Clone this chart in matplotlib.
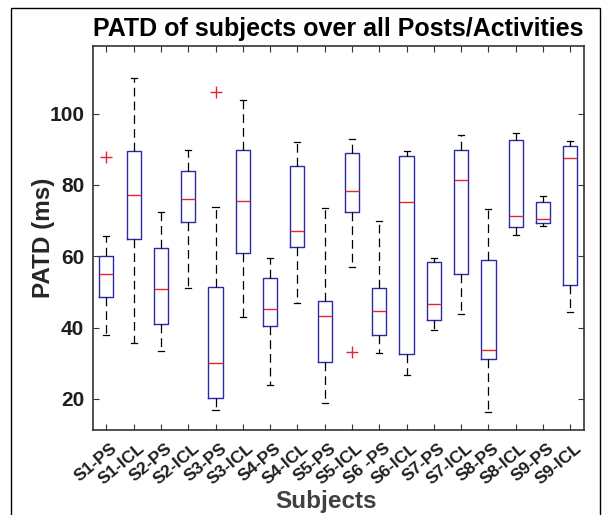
import matplotlib
matplotlib.use("Agg")
import matplotlib.pyplot as plt
import matplotlib.transforms as mtransforms
from matplotlib.patches import Rectangle

plt.rcParams["font.family"] = ["Liberation Sans", "DejaVu Sans"]

labels = ["S1-PS", "S1-ICL", "S2-PS", "S2-ICL", "S3-PS", "S3-ICL", "S4-PS", "S4-ICL",
          "S5-PS", "S5-ICL", "S6 -PS", "S6-ICL", "S7-PS", "S7-ICL", "S8-PS", "S8-ICL",
          "S9-PS", "S9-ICL"]

whislo = [37.9, 35.8, 33.5, 51.2, 16.9, 42.9, 24.0, 46.9, 19.0, 57.0, 32.8, 26.7,
          39.2, 43.9, 16.3, 65.9, 68.6, 44.5]
q1 = [48.7, 64.8, 41.1, 69.6, 20.3, 60.8, 40.5, 62.7, 30.3, 72.5, 37.9, 32.7,
      42.2, 55.0, 31.1, 68.2, 69.3, 52.0]
med = [55.1, 77.3, 50.8, 76.0, 30.1, 75.6, 45.3, 67.1, 43.3, 78.3, 44.6, 75.3,
       46.6, 81.4, 33.8, 71.2, 70.5, 87.5]
q3 = [60.0, 89.4, 62.4, 84.0, 51.3, 89.8, 53.9, 85.4, 47.6, 88.8, 51.2, 88.1,
      58.4, 89.8, 59.0, 92.5, 75.3, 90.8]
whishi = [65.8, 110.0, 72.5, 89.8, 73.9, 103.7, 59.4, 92.1, 73.5, 92.8, 69.9, 89.5,
          59.4, 94.1, 73.3, 94.5, 77.0, 92.2]
outliers = [[87.7], [], [], [], [105.9], [], [], [], [], [33.1], [], [],
            [], [], [], [], [], []]

stats = []
for i in range(len(labels)):
    stats.append(dict(label=labels[i], whislo=whislo[i], q1=q1[i], med=med[i],
                      q3=q3[i], whishi=whishi[i], fliers=outliers[i]))

fig = plt.figure(figsize=(6.05, 5.15), dpi=100)
ax = fig.add_axes([0.1532, 0.165, 0.812, 0.7462])

box_col = "#2a2aa6"
ax.bxp(stats, widths=0.52, capwidths=0.22, showfliers=True,
       boxprops=dict(color=box_col, linewidth=1.0),
       medianprops=dict(color="#e0262e", linewidth=1.0),
       whiskerprops=dict(color="black", linewidth=0.9, linestyle=(0, (7, 4))),
       capprops=dict(color="black", linewidth=0.9),
       flierprops=dict(marker="+", markeredgecolor="#e0262e", markersize=8,
                       markeredgewidth=1.0, linestyle="none"))

ax.set_xlim(0.5, len(labels) + 0.5)
ax.set_ylim(11.3, 119.0)
ax.set_yticks([20, 40, 60, 80, 100])

ax.tick_params(direction="in", top=True, right=True, length=4, width=0.8,
               color="#333333", labelsize=15, pad=6)
for lab in ax.get_yticklabels():
    lab.set_fontweight("bold")
    lab.set_color("#1e1e1e")

ax.set_xticks(range(1, len(labels) + 1))
# shift rotated tick labels a little right and down, as in the original
offset = mtransforms.ScaledTranslation(9 / 100, -8 / 100, fig.dpi_scale_trans)
ax.set_xticklabels(labels, rotation=40, ha="right", va="center",
                   rotation_mode="anchor", fontsize=12.5, fontweight="bold",
                   color="#1e1e1e")
for lab in ax.get_xticklabels():
    lab.set_transform(lab.get_transform() + offset)

for sp in ax.spines.values():
    sp.set_color("#333333")
    sp.set_linewidth(1.2)

ax.set_title("PATD of subjects over all Posts/Activities", fontsize=18,
             fontweight="bold", pad=7)
ax.set_ylabel("PATD (ms)", fontsize=17.5, fontweight="bold", color="#262626",
              labelpad=-4)
ax.set_xlabel("Subjects", fontsize=17.5, fontweight="bold", color="#404040")
ax.xaxis.set_label_coords(0.474, -0.155)

fig.patches.append(Rectangle((11.5 / 605, -0.01), (599.5 - 11.5) / 605, 1 - 8.5 / 515 + 0.01,
                             transform=fig.transFigure, fill=False,
                             edgecolor="black", linewidth=1.0))

fig.savefig("out.png", dpi=100)
